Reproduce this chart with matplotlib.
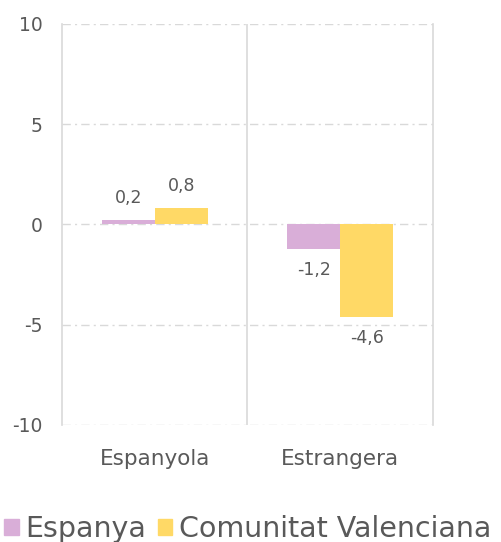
import numpy as np
import matplotlib
matplotlib.use('Agg')
import matplotlib.pyplot as plt
from matplotlib.patches import Patch

# Data
categories = ['Espanyola', 'Estrangera']
espanya = [0.2, -1.2]
comunitat = [0.8, -4.6]
series_names = ['Espanya', 'Comunitat Valenciana']
yticks = [-10, -5, 0, 5, 10]

pink = '#D9AED8'
yellow = '#FFD966'
grey_txt = '#595959'
grid_c = '#D9D9D9'

plt.rcParams['font.family'] = ['DejaVu Sans']

fig = plt.figure(figsize=(5.01, 5.42), dpi=100)
ax = fig.add_axes([0.1238, 0.2159, 0.740, 0.7399])

x = np.arange(len(categories))
w = 0.286
ax.bar(x - w / 2, espanya, w, color=pink, zorder=3)
ax.bar(x + w / 2, comunitat, w, color=yellow, zorder=3)

# data labels
for xs, vals in [(x - w / 2, espanya), (x + w / 2, comunitat)]:
    for xi, v in zip(xs, vals):
        off = 1.1 if v >= 0 else -1.05
        ax.text(xi, v + off, f'{v:.1f}'.replace('.', ','), ha='center',
                va='center', fontsize=12.5, color=grey_txt)

ax.set_xlim(-0.5, 1.5)
ax.set_ylim(-10, 10)
ax.set_yticks(yticks)
ax.set_yticklabels([str(t) for t in yticks])
ax.set_xticks(x)
ax.set_xticklabels(categories)
ax.tick_params(axis='both', length=0, colors=grey_txt)
ax.tick_params(axis='y', pad=14, labelsize=13.5)
ax.tick_params(axis='x', pad=17, labelsize=15.5)

ax.grid(axis='y', color=grid_c, linestyle=(0, (6, 3, 1.5, 3)), linewidth=1.0, zorder=0)
ax.axvline(0.5, color=grid_c, linewidth=1.2, zorder=1)
for s in ['top', 'bottom']:
    ax.spines[s].set_visible(False)
for s in ['left', 'right']:
    ax.spines[s].set_color(grid_c)
    ax.spines[s].set_linewidth(1.2)

handles = [Patch(color=pink), Patch(color=yellow)]
fig.legend(handles, series_names, loc='lower center', bbox_to_anchor=(0.495, -0.05),
           ncol=2, frameon=False, fontsize=20.5, handlelength=0.5, handleheight=0.5,
           handletextpad=0.25, columnspacing=0.4, labelcolor=grey_txt)

fig.savefig('out.png', dpi=100)
